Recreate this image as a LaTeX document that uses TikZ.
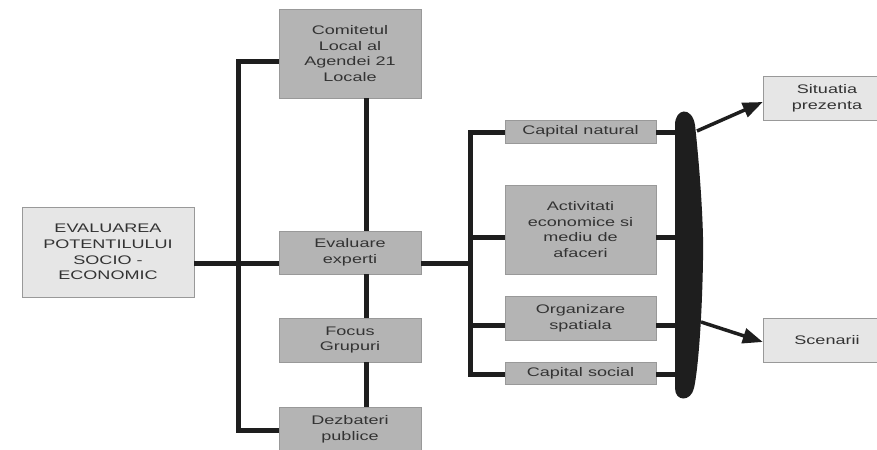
\documentclass[tikz,border=0pt]{standalone}
\usepackage{fontspec}
\setmainfont{Liberation Sans}[FakeStretch=1.45]
\usetikzlibrary{arrows.meta,positioning}
\definecolor{boxgray}{HTML}{B4B4B4}
\definecolor{boxlight}{HTML}{E6E6E6}
\definecolor{edgegray}{HTML}{999999}
\definecolor{txtgray}{HTML}{333333}
\definecolor{linkblack}{HTML}{1E1E1E}

\begin{document}
\begin{tikzpicture}[
    x=1bp, y=-1bp,
    every node/.style={font=\fontsize{12.5}{15.7}\selectfont, text=txtgray},
    outer/.style={draw=edgegray, fill=boxlight, align=center, inner sep=0pt},
    method/.style={draw=edgegray, fill=boxgray, align=center, inner sep=0pt, minimum width=142bp},
    factor/.style={draw=edgegray, fill=boxgray, align=center, inner sep=0pt, minimum width=151bp},
    bar/.style={inner sep=0pt, minimum width=28bp, minimum height=286bp},
    link/.style={line width=5bp, draw=linkblack},
    arrow/.style={-{Triangle[length=20bp, width=15bp]}, line width=3.5bp, draw=linkblack}
]
    \useasboundingbox[fill=white] (0,0) rectangle (877,450);

    \node[outer, minimum width=172bp, minimum height=90bp] (main) at (108,252) {EVALUAREA\\POTENTILULUI\\SOCIO -\\ECONOMIC};

    \node[method, minimum height=89bp] (comit) at (350,53.5) {Comitetul\\Local al\\Agendei 21\\Locale};
    \node[method, minimum height=43bp] (expert) at (350,252.5) {Evaluare\\experti};
    \node[method, minimum height=44bp] (focus) at (350,340) {Focus\\Grupuri};
    \node[method, minimum height=44bp] (dezb) at (350,429) {Dezbateri\\publice};

    \node[factor, minimum height=23bp] (natural) at (580.5,131.5) {Capital natural};
    \node[factor, minimum height=89bp] (activ) at (580.5,229.5) {Activitati\\economice si\\mediu de\\afaceri};
    \node[factor, minimum height=44bp] (organ) at (580.5,318) {Organizare\\spatiala};
    \node[factor, minimum height=22bp] (social) at (580.5,373) {Capital social};

    \node[bar] (collect) at (689,255) {};

    \node[outer, minimum width=128bp, minimum height=44bp] (sit) at (827,98) {Situatia\\prezenta};
    \node[outer, minimum width=128bp, minimum height=44bp] (scen) at (827,340) {Scenarii};

    \coordinate (lbus) at (238,264);
    \coordinate (rbus) at (470,264);
    \coordinate (barA) at (697,131);
    \coordinate (barB) at (701,322);

    % left side
    \draw[link] (main.east |- lbus) -- (expert.west |- lbus);
    \draw[link] ([yshift=-8.5bp]comit.west) -| (lbus) |- ([yshift=-1bp]dezb.west);
    \draw[link] ([xshift=16bp]comit.south) -- ([xshift=16bp]expert.north);
    \draw[link] ([xshift=16bp]expert.south) -- ([xshift=16bp]focus.north);
    \draw[link] ([xshift=16bp]focus.south) -- ([xshift=16bp]dezb.north);

    % right side
    \draw[link] (expert.east |- rbus) -- (rbus);
    \draw[link] ([yshift=-1.5bp]natural.west) -| (rbus) |- ([yshift=-2bp]social.west);
    \draw[link] ([yshift=-8.5bp]activ.west) -- ([yshift=-8.5bp]activ.west -| rbus);
    \draw[link] ([yshift=-8bp]organ.west) -- ([yshift=-8bp]organ.west -| rbus);

    \draw[link] ([yshift=-1.5bp]natural.east) -- ([yshift=-1.5bp]natural.east -| collect.west);
    \draw[link] ([yshift=-8.5bp]activ.east) -- ([yshift=-8.5bp]activ.east -| collect.west);
    \draw[link] ([yshift=-8bp]organ.east) -- ([yshift=-8bp]organ.east -| collect.west);
    \draw[link] ([yshift=-2bp]social.east) -- ([yshift=-2bp]social.east -| collect.west);

    \fill[linkblack] (675,125) .. controls (675,108) and (692,106) .. (695,125)
        .. controls (700,170) and (704,230) .. (703,260)
        .. controls (702,320) and (698,370) .. (694,388)
        .. controls (691,402) and (675,402) .. (675,388) -- cycle;

    \draw[arrow] (barA) -- ([yshift=-4bp]sit.west);
    \draw[arrow] (barB) -- ([yshift=-2bp]scen.west);
\end{tikzpicture}
\end{document}
